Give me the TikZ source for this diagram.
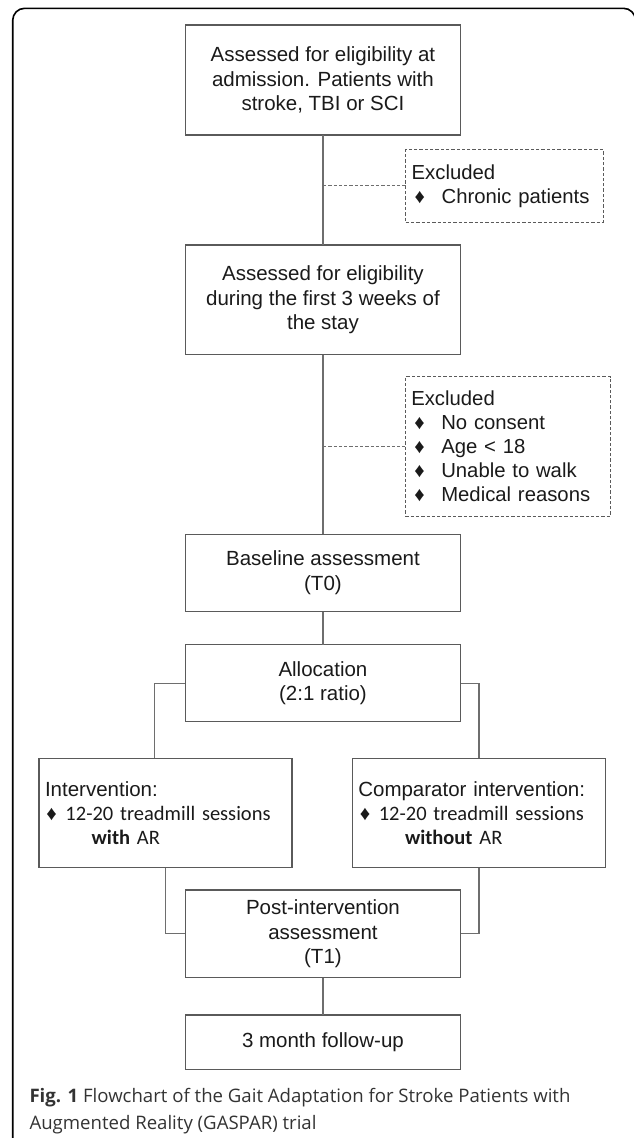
\documentclass[tikz,border=0pt]{standalone}
\usepackage{fontspec}
\setmainfont{Liberation Sans}
\newfontfamily\calfont{Carlito}
\newfontfamily\capfont{Open Sans}
\newfontfamily\bulfont{Liberation Sans}
\definecolor{boxgray}{HTML}{5A5A5A}
\definecolor{linegray}{HTML}{6E6E6E}
\definecolor{textblack}{HTML}{1A1A1A}
\definecolor{capgray}{HTML}{333333}
\newcommand{\bul}{\makebox[30pt][l]{\hspace{3pt}{\bulfont ♦}}}
\newcommand{\cbul}{\makebox[20.5pt][l]{\hspace{1.5pt}{\bulfont ♦}}}
\begin{document}
\begin{tikzpicture}[x=1pt,y=-1pt,
  every node/.style={inner sep=0pt, outer sep=0pt, text=textblack},
  mainbox/.style={draw=boxgray, line width=1.1pt, minimum width=275.3pt, align=center,
    font=\fontsize{20.5}{24.7}\selectfont},
  armbox/.style={draw=boxgray, line width=1.1pt, inner xsep=6pt, text width=241pt,
    minimum height=109.4pt, align=left, font=\fontsize{20.5}{23.9}\selectfont},
  exbox/.style={draw=boxgray, line width=0.9pt, dash pattern=on 3.3pt off 2pt,
    inner xsep=6pt, align=left, font=\fontsize{20.3}{24.2}\selectfont},
  conn/.style={draw=linegray, line width=1.1pt},
  exconn/.style={draw=linegray, line width=0.9pt, dash pattern=on 3.3pt off 2pt}
]
\useasboundingbox (0,0) rectangle (634,1138);
% outer frame
\draw[black, line width=1.6pt, rounded corners=12pt] (12.7,1150) -- (12.7,8.3) -- (635.5,8.3) -- (635.5,1150);

\node[mainbox, minimum height=110pt] (b1) at (322.95,80) {Assessed for eligibility at\\admission. Patients with\\stroke, TBI or SCI};
\node[mainbox, minimum height=109.7pt] (b2) at (322.95,299.85) {Assessed for eligibility\\during the first 3 weeks of\\the stay};
\node[mainbox, minimum height=77.4pt] (base) at (322.95,573) {Baseline assessment\\(T0)};
\node[mainbox, minimum height=77pt] (alloc) at (322.95,683.2) {Allocation\\(2:1 ratio)};
\node[mainbox, minimum height=87.7pt] (post) at (322.95,933.85) {Post-intervention\\assessment\\(T1)};
\node[mainbox, minimum height=54.3pt] (fu) at (322.95,1042.15) {3 month follow-up};

\node[exbox, text width=185.6pt, minimum height=72.3pt] (ex1) at (504.5,185.85) {Excluded\\\bul Chronic patients};
\node[exbox, text width=193.4pt, minimum height=139.3pt] (ex2) at (508,446.35) {Excluded\\\bul No consent\\\bul Age < 18\\\bul Unable to walk\\\bul Medical reasons};

\node[armbox] (arm1) at (165.5,813) {Intervention:\\{\calfont\cbul 12-20 treadmill sessions}\\{\calfont\hspace*{46.7pt}\textbf{with} AR}};
\node[armbox, text width=241.4pt] (arm2) at (479,813) {Comparator intervention:\\{\calfont\cbul 12-20 treadmill sessions}\\{\calfont\hspace*{46.7pt}\textbf{without} AR}};

\node[anchor=base west, align=left, text=capgray, font=\capfont\fontsize{18.6}{27}\selectfont] (cap) at (29.5,1129.3)
  {\textbf{Fig. 1} Flowchart of the Gait Adaptation for Stroke Patients with\\Augmented Reality (GASPAR) trial};

% connectors
\draw[conn] (b1.south) -- (b2.north);
\draw[exconn] (b1.south |- ex1.west) -- (ex1.west);
\draw[conn] (b2.south) -- (base.north);
\draw[exconn] (b2.south |- ex2.west) -- (ex2.west);
\draw[conn] (base.south) -- (alloc.north);
\draw[conn] (alloc.west) -| ([xshift=-10.8pt]arm1.north);
\draw[conn] (alloc.east) -| (arm2.north);
\draw[conn] (arm1.south) |- (post.west);
\draw[conn] (arm2.south) |- (post.east);
\draw[conn] (post.south) -- (fu.north);
\end{tikzpicture}
\end{document}
